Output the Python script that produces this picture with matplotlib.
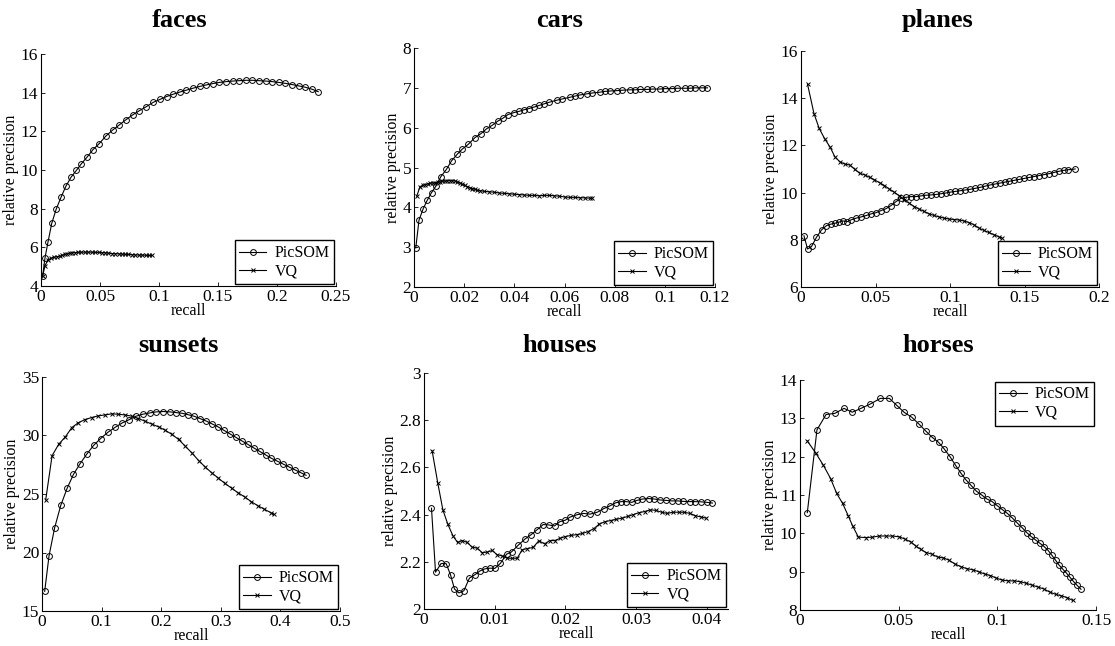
import matplotlib
matplotlib.use('Agg')
import matplotlib.pyplot as plt

plt.rcParams['font.family'] = ['Liberation Serif', 'DejaVu Serif']

# ---- data (recall, relative precision) ----
faces_pic_x = [0.0014, 0.0034, 0.006, 0.0091, 0.0129, 0.0169, 0.0211, 0.0254, 0.030, 0.0343,
               0.0391, 0.044, 0.0494, 0.0549, 0.0606, 0.0663, 0.072, 0.0777, 0.0834, 0.0891,
               0.0951, 0.1008, 0.1064, 0.112, 0.1176, 0.1232, 0.1288, 0.1344, 0.140, 0.1456,
               0.1512, 0.1568, 0.1624, 0.168, 0.1736, 0.1792, 0.1848, 0.1904, 0.196, 0.2016,
               0.2072, 0.2128, 0.2184, 0.224, 0.2296, 0.235]
faces_pic_y = [4.51, 5.46, 6.3, 7.24, 7.98, 8.58, 9.16, 9.62, 9.98, 10.33,
               10.67, 11.05, 11.37, 11.75, 12.06, 12.33, 12.6, 12.85, 13.07, 13.27,
               13.5, 13.65, 13.8, 13.92, 14.03, 14.13, 14.23, 14.32, 14.4, 14.47,
               14.53, 14.57, 14.6, 14.62, 14.64, 14.64, 14.62, 14.6, 14.57, 14.53,
               14.48, 14.42, 14.35, 14.28, 14.18, 14.05]
faces_vq_x = [0.0014, 0.0034, 0.0057, 0.0086, 0.0114, 0.0136, 0.0157, 0.018, 0.02, 0.0222,
              0.0243, 0.0265, 0.0286, 0.031, 0.0343, 0.037, 0.040, 0.0429, 0.046, 0.0488,
              0.0514, 0.054, 0.057, 0.060, 0.063, 0.066, 0.0687, 0.0714, 0.074, 0.077,
              0.080, 0.0829, 0.086, 0.0888, 0.0915, 0.0943]
faces_vq_y = [4.51, 5.06, 5.32, 5.44, 5.49, 5.52, 5.54, 5.58, 5.63, 5.67,
              5.7, 5.72, 5.73, 5.74, 5.75, 5.75, 5.75, 5.75, 5.74, 5.74,
              5.73, 5.72, 5.7, 5.68, 5.67, 5.66, 5.65, 5.64, 5.63, 5.62,
              5.61, 5.6, 5.6, 5.59, 5.58, 5.58]

cars_pic_x = [0.0007, 0.002, 0.0037, 0.0053, 0.007, 0.0088, 0.0107, 0.0129, 0.015, 0.0172,
              0.0192, 0.0216, 0.0243, 0.0267, 0.0289, 0.0312, 0.0333, 0.0355, 0.0375, 0.0399,
              0.0419, 0.0439, 0.0458, 0.048, 0.050, 0.052, 0.054, 0.057, 0.059, 0.062,
              0.064, 0.066, 0.069, 0.071, 0.074, 0.076, 0.078, 0.081, 0.083, 0.086,
              0.088, 0.090, 0.093, 0.095, 0.098, 0.100, 0.103, 0.105, 0.108, 0.110,
              0.112, 0.115, 0.117]
cars_pic_y = [2.98, 3.68, 3.97, 4.18, 4.37, 4.54, 4.77, 4.95, 5.17, 5.33,
              5.46, 5.58, 5.75, 5.85, 5.97, 6.06, 6.16, 6.24, 6.33, 6.38,
              6.41, 6.45, 6.48, 6.52, 6.56, 6.6, 6.64, 6.69, 6.72, 6.76,
              6.79, 6.82, 6.85, 6.87, 6.89, 6.91, 6.92, 6.93, 6.94, 6.95,
              6.95, 6.96, 6.96, 6.97, 6.97, 6.98, 6.98, 6.99, 6.99, 6.99,
              7.0, 7.0, 7.0]
cars_vq_x = [0.0011, 0.0024, 0.0034, 0.0044, 0.0054, 0.0064, 0.0074, 0.0084, 0.0094, 0.0103,
             0.0113, 0.0123, 0.0133, 0.0143, 0.0153, 0.0163, 0.0173, 0.0183, 0.0193, 0.0203,
             0.0213, 0.0223, 0.0233, 0.0243, 0.0253, 0.0263, 0.028, 0.030, 0.032, 0.034,
             0.036, 0.038, 0.040, 0.042, 0.044, 0.046, 0.048, 0.050, 0.052, 0.054,
             0.056, 0.058, 0.060, 0.062, 0.064, 0.066, 0.068, 0.070, 0.071]
cars_vq_y = [4.28, 4.52, 4.55, 4.57, 4.59, 4.6, 4.61, 4.62, 4.63, 4.64,
             4.65, 4.66, 4.67, 4.67, 4.67, 4.66, 4.64, 4.61, 4.58, 4.55,
             4.52, 4.49, 4.47, 4.45, 4.43, 4.42, 4.4, 4.39, 4.38, 4.36,
             4.35, 4.34, 4.33, 4.32, 4.31, 4.3, 4.3, 4.29, 4.3, 4.3,
             4.29, 4.28, 4.26, 4.25, 4.25, 4.24, 4.24, 4.23, 4.23]

planes_pic_x = [0.002, 0.0044, 0.0071, 0.0104, 0.0138, 0.0171, 0.0198, 0.0227, 0.0256, 0.0282,
                0.0311, 0.0338, 0.0371, 0.0404, 0.0438, 0.0471, 0.0504, 0.0538, 0.0571, 0.0604,
                0.0638, 0.0671, 0.0704, 0.0738, 0.0771, 0.0804, 0.0838, 0.0871, 0.0904, 0.0937,
                0.097, 0.1003, 0.1036, 0.1069, 0.1102, 0.1135, 0.1168, 0.1201, 0.1234, 0.1267,
                0.130, 0.1333, 0.1366, 0.1399, 0.1432, 0.1465, 0.1498, 0.1531, 0.1564, 0.1597,
                0.163, 0.1663, 0.1696, 0.1729, 0.1762, 0.1795, 0.184]
planes_pic_y = [8.17, 7.61, 7.72, 8.11, 8.42, 8.6, 8.66, 8.7, 8.75, 8.8,
                8.77, 8.85, 8.92, 8.97, 9.03, 9.1, 9.15, 9.24, 9.32, 9.45,
                9.62, 9.76, 9.8, 9.83, 9.83, 9.86, 9.89, 9.9, 9.92, 9.95,
                9.98, 10.02, 10.05, 10.08, 10.11, 10.14, 10.18, 10.22, 10.27, 10.32,
                10.36, 10.4, 10.44, 10.48, 10.52, 10.56, 10.6, 10.64, 10.68, 10.72,
                10.76, 10.8, 10.85, 10.9, 10.94, 10.97, 11.0]
planes_vq_x = [0.0044, 0.0087, 0.0122, 0.016, 0.0196, 0.0227, 0.026, 0.0293, 0.0327, 0.036,
               0.0393, 0.0427, 0.046, 0.0493, 0.0527, 0.056, 0.0593, 0.0627, 0.066, 0.0693,
               0.0727, 0.076, 0.0793, 0.0827, 0.086, 0.0893, 0.0927, 0.096, 0.0993, 0.1027,
               0.106, 0.1093, 0.1127, 0.116, 0.1193, 0.1227, 0.126, 0.1293, 0.1327, 0.135]
planes_vq_y = [14.59, 13.35, 12.72, 12.27, 11.92, 11.52, 11.31, 11.21, 11.17, 10.99,
               10.82, 10.75, 10.65, 10.54, 10.42, 10.3, 10.15, 10.01, 9.87, 9.69,
               9.55, 9.41, 9.3, 9.2, 9.1, 9.03, 8.97, 8.92, 8.88, 8.86,
               8.84, 8.8, 8.73, 8.64, 8.5, 8.4, 8.31, 8.22, 8.13, 8.07]

sunsets_pic_x = [0.0045, 0.0118, 0.0213, 0.0315, 0.0421, 0.0528, 0.0635, 0.0747, 0.0865, 0.0983,
                 0.1107, 0.123, 0.1348, 0.1466, 0.1579, 0.1691, 0.1809, 0.1921, 0.2034, 0.2146,
                 0.2247, 0.235, 0.245, 0.255, 0.265, 0.275, 0.285, 0.295, 0.305, 0.315,
                 0.325, 0.335, 0.345, 0.355, 0.365, 0.375, 0.385, 0.395, 0.405, 0.415,
                 0.425, 0.435, 0.443]
sunsets_pic_y = [16.68, 19.72, 22.13, 24.03, 25.48, 26.68, 27.56, 28.38, 29.15, 29.74,
                 30.28, 30.71, 31.08, 31.36, 31.65, 31.82, 31.93, 32.02, 32.05, 32.02,
                 31.96, 31.9, 31.78, 31.65, 31.45, 31.25, 31.0, 30.75, 30.45, 30.15,
                 29.85, 29.55, 29.25, 28.95, 28.65, 28.35, 28.05, 27.8, 27.55, 27.3,
                 27.05, 26.8, 26.6]
sunsets_vq_x = [0.0062, 0.0169, 0.0281, 0.0393, 0.05, 0.0607, 0.0719, 0.0831, 0.0944, 0.1056,
                0.1169, 0.1281, 0.1393, 0.1506, 0.1618, 0.173, 0.1843, 0.1955, 0.2067, 0.218,
                0.2292, 0.2404, 0.2516, 0.263, 0.274, 0.285, 0.296, 0.307, 0.318, 0.329,
                0.340, 0.351, 0.362, 0.373, 0.384, 0.389]
sunsets_vq_y = [24.49, 28.27, 29.26, 29.89, 30.68, 31.08, 31.36, 31.53, 31.68, 31.76,
                31.85, 31.82, 31.76, 31.65, 31.45, 31.22, 30.97, 30.74, 30.45, 30.09,
                29.66, 29.09, 28.5, 27.85, 27.3, 26.8, 26.35, 25.9, 25.5, 25.1,
                24.75, 24.35, 24.0, 23.7, 23.4, 23.25]

houses_pic_x = [0.00106, 0.00163, 0.00243, 0.00314, 0.00375, 0.00431, 0.00493, 0.00563, 0.00643, 0.00719,
                0.0079, 0.0086, 0.00931, 0.01002, 0.01082, 0.01167, 0.01238, 0.01332, 0.01426, 0.01511,
                0.01596, 0.01686, 0.01766, 0.01846, 0.01921, 0.01997, 0.0207, 0.0217, 0.0226, 0.0235,
                0.0245, 0.0254, 0.0263, 0.0271, 0.0279, 0.0286, 0.0294, 0.0301, 0.0309, 0.0318,
                0.0326, 0.0334, 0.0343, 0.0351, 0.0359, 0.0367, 0.0376, 0.0384, 0.0392, 0.04,
                0.0408]
houses_pic_y = [2.427, 2.156, 2.193, 2.192, 2.145, 2.085, 2.068, 2.077, 2.131, 2.145,
                2.161, 2.17, 2.173, 2.172, 2.194, 2.232, 2.242, 2.27, 2.296, 2.314,
                2.335, 2.358, 2.356, 2.352, 2.37, 2.376, 2.39, 2.4, 2.405, 2.402,
                2.41, 2.425, 2.437, 2.45, 2.455, 2.455, 2.452, 2.46, 2.466, 2.468,
                2.466, 2.462, 2.46, 2.458, 2.458, 2.456, 2.455, 2.455, 2.454, 2.452,
                2.449]
houses_vq_x = [0.00115, 0.00196, 0.00267, 0.00337, 0.00408, 0.00474, 0.0054, 0.00611, 0.00681, 0.00752,
               0.00823, 0.00893, 0.00964, 0.01035, 0.01106, 0.01176, 0.01247, 0.01318, 0.01389, 0.01459,
               0.01544, 0.01624, 0.01705, 0.0178, 0.0185, 0.01921, 0.0200, 0.0208, 0.0216, 0.0224,
               0.0232, 0.024, 0.0248, 0.0256, 0.0264, 0.0272, 0.028, 0.0288, 0.0296, 0.0304,
               0.0312, 0.032, 0.0328, 0.0336, 0.0344, 0.0352, 0.036, 0.0368, 0.0376, 0.0384,
               0.0392, 0.0399]
houses_vq_y = [2.67, 2.532, 2.42, 2.359, 2.311, 2.282, 2.29, 2.282, 2.262, 2.258,
               2.239, 2.241, 2.248, 2.23, 2.225, 2.215, 2.215, 2.215, 2.251, 2.256,
               2.261, 2.289, 2.276, 2.29, 2.29, 2.299, 2.307, 2.312, 2.315, 2.32,
               2.328, 2.34, 2.36, 2.37, 2.375, 2.38, 2.385, 2.392, 2.4, 2.408,
               2.413, 2.42, 2.418, 2.41, 2.405, 2.41, 2.41, 2.41, 2.405, 2.395,
               2.39, 2.385]

horses_pic_x = [0.0037, 0.0086, 0.0132, 0.0177, 0.0223, 0.0265, 0.0309, 0.0355, 0.0407, 0.0453,
                0.049, 0.0527, 0.0566, 0.0603, 0.0637, 0.0671, 0.0703, 0.0731, 0.076, 0.0789,
                0.0814, 0.084, 0.0867, 0.0894, 0.0921, 0.0946, 0.0973, 0.1, 0.1025, 0.1051,
                0.1076, 0.1101, 0.1127, 0.1149, 0.1171, 0.1193, 0.1216, 0.1238, 0.1258, 0.1276,
                0.1295, 0.1313, 0.1331, 0.1349, 0.1367, 0.1385, 0.1405, 0.1424]
horses_pic_y = [10.54, 12.7, 13.1, 13.13, 13.26, 13.16, 13.26, 13.37, 13.52, 13.52,
                13.34, 13.16, 13.03, 12.85, 12.67, 12.5, 12.37, 12.2, 12.0, 11.77,
                11.58, 11.4, 11.25, 11.1, 11.0, 10.9, 10.83, 10.72, 10.62, 10.52,
                10.4, 10.27, 10.14, 10.02, 9.92, 9.83, 9.74, 9.65, 9.55, 9.43,
                9.3, 9.17, 9.07, 8.97, 8.86, 8.75, 8.64, 8.54]
horses_vq_x = [0.0037, 0.0079, 0.0118, 0.0155, 0.0186, 0.0216, 0.0245, 0.0267, 0.0296, 0.0333,
               0.0367, 0.04, 0.0434, 0.0468, 0.0502, 0.0532, 0.0563, 0.0586, 0.0613, 0.0639,
               0.0667, 0.0698, 0.0726, 0.0755, 0.0785, 0.0815, 0.0845, 0.0875, 0.0905, 0.0935,
               0.0965, 0.0995, 0.1025, 0.1055, 0.1085, 0.1115, 0.1145, 0.1175, 0.1205, 0.1235,
               0.1265, 0.1295, 0.1325, 0.1355, 0.1382]
horses_vq_y = [12.41, 12.1, 11.78, 11.43, 11.04, 10.78, 10.45, 10.19, 9.9, 9.89,
               9.9, 9.93, 9.93, 9.93, 9.91, 9.85, 9.77, 9.67, 9.58, 9.5,
               9.46, 9.38, 9.36, 9.3, 9.2, 9.13, 9.08, 9.05, 9.0, 8.94,
               8.9, 8.83, 8.78, 8.76, 8.76, 8.74, 8.7, 8.65, 8.6, 8.55,
               8.47, 8.41, 8.37, 8.32, 8.25]

# tick values per panel
faces_xticks = [0, 0.05, 0.1, 0.15, 0.2, 0.25]
faces_yticks = [4, 6, 8, 10, 12, 14, 16]
cars_xticks = [0, 0.02, 0.04, 0.06, 0.08, 0.1, 0.12]
cars_yticks = [2, 3, 4, 5, 6, 7, 8]
planes_xticks = [0, 0.05, 0.1, 0.15, 0.2]
planes_yticks = [6, 8, 10, 12, 14, 16]
sunsets_xticks = [0, 0.1, 0.2, 0.3, 0.4, 0.5]
sunsets_yticks = [15, 20, 25, 30, 35]
houses_xticks = [0, 0.01, 0.02, 0.03, 0.04]
houses_yticks = [2, 2.2, 2.4, 2.6, 2.8, 3]
horses_xticks = [0, 0.05, 0.1, 0.15]
horses_yticks = [8, 9, 10, 11, 12, 13, 14]

W, H = 1115, 646
fig = plt.figure(figsize=(W / 100, H / 100), dpi=100)


def panel(rect, title, title_pos, pic_x, pic_y, vq_x, vq_y, xlim, xticks, yticks, loc):
    # rect in pixels: left, top, right, bottom
    l, t, r, b = rect
    ax = fig.add_axes([l / W, 1 - b / H, (r - l) / W, (b - t) / H])
    ax.plot(pic_x, pic_y, '-o', color='k', lw=0.8, ms=4.2, mfc='none', mec='k', mew=0.7,
            label='PicSOM')
    ax.plot(vq_x, vq_y, '-x', color='k', lw=0.8, ms=2.6, mew=0.7, label='VQ')
    ax.set_xlim(*xlim)
    ax.set_ylim(yticks[0], yticks[-1])
    ax.set_xticks(xticks)
    ax.set_xticklabels([f'{v:g}' for v in xticks])
    ax.set_yticks(yticks)
    ax.set_yticklabels([f'{v:g}' for v in yticks])
    for s in ('top', 'right'):
        ax.spines[s].set_visible(False)
    for s in ('left', 'bottom'):
        ax.spines[s].set_linewidth(0.8)
    ax.tick_params(direction='in', length=3, width=0.6, labelsize=12.5, pad=2)
    ax.set_xlabel('recall', fontsize=11.5, labelpad=-1)
    ax.set_ylabel('relative precision', fontsize=11.5, labelpad=1)
    leg = ax.legend(loc=loc, fancybox=False, edgecolor='k', framealpha=1, fontsize=11.5,
                    handlelength=1.7, handletextpad=0.5, borderpad=0.3, labelspacing=0.15,
                    borderaxespad=0.1, numpoints=1)
    leg.get_frame().set_linewidth(1.0)
    fig.text(title_pos[0] / W, 1 - title_pos[1] / H, title, ha='center', va='baseline',
             fontsize=19, fontweight='bold')
    return ax


panel((41, 54, 336, 286), 'faces', (180, 27), faces_pic_x, faces_pic_y, faces_vq_x, faces_vq_y,
      (0, 0.25), faces_xticks, faces_yticks, 'lower right')
panel((414, 48, 715, 287), 'cars', (560, 27), cars_pic_x, cars_pic_y, cars_vq_x, cars_vq_y,
      (0, 0.12), cars_xticks, cars_yticks, 'lower right')
panel((801, 51, 1099, 287), 'planes', (938, 27), planes_pic_x, planes_pic_y, planes_vq_x, planes_vq_y,
      (0, 0.2), planes_xticks, planes_yticks, 'lower right')
panel((42, 377, 340, 611), 'sunsets', (178, 352), sunsets_pic_x, sunsets_pic_y, sunsets_vq_x, sunsets_vq_y,
      (0, 0.5), sunsets_xticks, sunsets_yticks, 'lower right')
panel((424, 373, 728, 609), 'houses', (560, 352), houses_pic_x, houses_pic_y, houses_vq_x, houses_vq_y,
      (0, 0.043), houses_xticks, houses_yticks, 'lower right')
panel((800, 380, 1096, 610), 'horses', (938, 352), horses_pic_x, horses_pic_y, horses_vq_x, horses_vq_y,
      (0, 0.15), horses_xticks, horses_yticks, 'upper right')

fig.savefig('out.png', dpi=100)
